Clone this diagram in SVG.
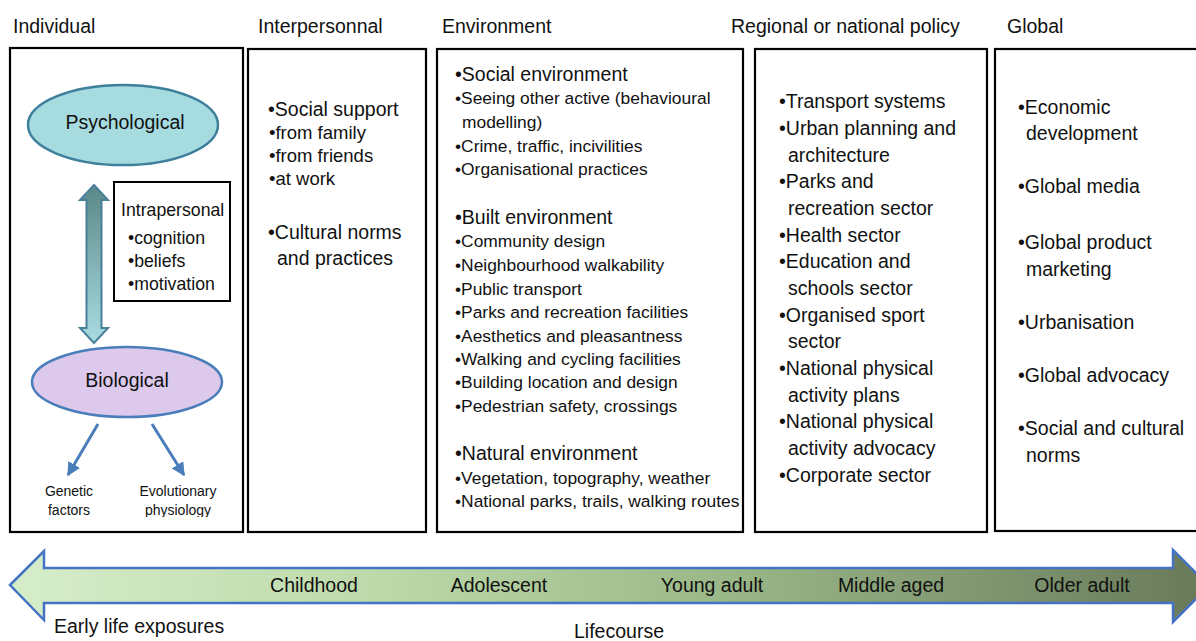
<svg xmlns="http://www.w3.org/2000/svg" width="1196" height="641" viewBox="0 0 1196 641">
<defs>
<style>
text{font-family:"Liberation Sans",Arial,sans-serif;fill:#111;}
.h{font-size:19.5px;}
.l{font-size:19.5px;}
.s{font-size:17.4px;}
.m{font-size:18.5px;}
.i{font-size:17.7px;}
.t{font-size:14px;}
.box{fill:#fff;stroke:#000;stroke-width:2.2;}
.mid{text-anchor:middle;}
</style>
<linearGradient id="vgrad" x1="0" y1="0" x2="0" y2="1">
<stop offset="0" stop-color="#5b8887"/>
<stop offset="1" stop-color="#a9dde2"/>
</linearGradient>
<linearGradient id="lgrad" x1="0" y1="0" x2="1" y2="0">
<stop offset="0" stop-color="#d6edca"/>
<stop offset="0.3" stop-color="#bedaab"/>
<stop offset="0.6" stop-color="#9ab788"/>
<stop offset="1" stop-color="#68795a"/>
</linearGradient>
<marker id="ah" viewBox="0 0 10 10" refX="9" refY="5" markerWidth="4.5" markerHeight="4.5" orient="auto">
<path d="M0,0 L10,5 L0,10 z" fill="#4a7ebb"/>
</marker>
<clipPath id="clipbot"><rect x="0" y="0" width="1196" height="517"/></clipPath>
</defs>

<g id="headers">
<text class="h" x="13" y="33">Individual</text>
<text class="h" x="258" y="33">Interpersonnal</text>
<text class="h" x="442" y="33">Environment</text>
<text class="h" x="731" y="33">Regional or national policy</text>
<text class="h" x="1007" y="33">Global</text>
</g>

<g id="individual">
<rect class="box" x="10" y="48" width="233" height="484"/>
</g>

<g id="psychological">
<ellipse cx="123" cy="125" rx="95" ry="40" fill="#a6dbe0" stroke="#3e7f9c" stroke-width="2.5"/>
<text class="l mid" x="125" y="129">Psychological</text>
</g>

<g id="biological">
<ellipse cx="127" cy="382" rx="95" ry="35" fill="#dcc9ec" stroke="#4a7ebb" stroke-width="2.5"/>
<text class="l mid" x="127" y="387">Biological</text>
</g>

<g id="intrapersonal">
<rect x="114" y="182" width="116" height="119" fill="#fff" stroke="#000" stroke-width="2"/>
<text class="i" x="121" y="216">Intrapersonal</text>
<text class="i" x="128" y="244">•cognition</text>
<text class="i" x="128" y="267">•beliefs</text>
<text class="i" x="128" y="290">•motivation</text>
</g>

<g id="genetic">
<text class="t mid" x="69" y="496">Genetic</text>
<text class="t mid" x="69" y="515">factors</text>
</g>

<g id="evolutionary">
<text class="t mid" x="178" y="496">Evolutionary</text>
<text class="t mid" x="178" y="515" clip-path="url(#clipbot)">physiology</text>
</g>

<g id="connectors">
<path d="M94,185 L108,200 L101.5,200 L101.5,328 L108,328 L94,343 L80,328 L86.5,328 L86.5,200 L80,200 Z" fill="url(#vgrad)" stroke="#4a7f9c" stroke-width="2"/>
<line x1="98" y1="424" x2="68" y2="475" stroke="#4a7ebb" stroke-width="3" marker-end="url(#ah)"/>
<line x1="152" y1="424" x2="184" y2="475" stroke="#4a7ebb" stroke-width="3" marker-end="url(#ah)"/>
</g>

<g id="interpersonal">
<rect class="box" x="248" y="49" width="178" height="483"/>
<text class="l" x="268" y="116">•Social support</text>
<text class="m" x="269" y="139">•from family</text>
<text class="m" x="269" y="162">•from friends</text>
<text class="m" x="269" y="185">•at work</text>
<text class="l" x="268" y="239">•Cultural norms</text>
<text class="l" x="277" y="265">and practices</text>
</g>

<g id="environment">
<rect class="box" x="437" y="49" width="306" height="483"/>
<text class="l" x="455" y="81">•Social environment</text>
<text class="s" x="455" y="104">•Seeing other active (behavioural</text>
<text class="s" x="462" y="128">modelling)</text>
<text class="s" x="455" y="152">•Crime, traffic, incivilities</text>
<text class="s" x="455" y="175">•Organisational practices</text>
<text class="l" x="455" y="224">•Built environment</text>
<text class="s" x="455" y="247">•Community design</text>
<text class="s" x="455" y="271">•Neighbourhood walkability</text>
<text class="s" x="455" y="295">•Public transport</text>
<text class="s" x="455" y="318">•Parks and recreation facilities</text>
<text class="s" x="455" y="342">•Aesthetics and pleasantness</text>
<text class="s" x="455" y="365">•Walking and cycling facilities</text>
<text class="s" x="455" y="388">•Building location and design</text>
<text class="s" x="455" y="412">•Pedestrian safety, crossings</text>
<text class="l" x="455" y="460">•Natural environment</text>
<text class="s" x="455" y="484">•Vegetation, topography, weather</text>
<text class="s" x="455" y="507">•National parks, trails, walking routes</text>
</g>

<g id="regional">
<rect class="box" x="755" y="49" width="232" height="483"/>
<text class="l" x="779" y="108">•Transport systems</text>
<text class="l" x="779" y="135">•Urban planning and</text>
<text class="l" x="788" y="162">architecture</text>
<text class="l" x="779" y="188">•Parks and</text>
<text class="l" x="788" y="215">recreation sector</text>
<text class="l" x="779" y="242">•Health sector</text>
<text class="l" x="779" y="268">•Education and</text>
<text class="l" x="788" y="295">schools sector</text>
<text class="l" x="779" y="322">•Organised sport</text>
<text class="l" x="788" y="348">sector</text>
<text class="l" x="779" y="375">•National physical</text>
<text class="l" x="788" y="402">activity plans</text>
<text class="l" x="779" y="428">•National physical</text>
<text class="l" x="788" y="455">activity advocacy</text>
<text class="l" x="779" y="482">•Corporate sector</text>
</g>

<g id="global">
<rect class="box" x="995" y="49" width="210" height="482"/>
<text class="l" x="1018" y="114">•Economic</text>
<text class="l" x="1026" y="140">development</text>
<text class="l" x="1018" y="193">•Global media</text>
<text class="l" x="1018" y="249">•Global product</text>
<text class="l" x="1026" y="276">marketing</text>
<text class="l" x="1018" y="329">•Urbanisation</text>
<text class="l" x="1018" y="382">•Global advocacy</text>
<text class="l" x="1018" y="435">•Social and cultural</text>
<text class="l" x="1026" y="462">norms</text>
</g>

<g id="lifecourse">
<path d="M10,585 L44,551 L44,568 L1173,568 L1173,550 L1209,586 L1173,622 L1173,603 L44,603 L44,620 Z" fill="url(#lgrad)" stroke="#4472c4" stroke-width="2.5" stroke-linejoin="miter"/>
<text class="l mid" x="314" y="592">Childhood</text>
<text class="l mid" x="499" y="592">Adolescent</text>
<text class="l mid" x="712" y="592">Young adult</text>
<text class="l mid" x="891" y="592">Middle aged</text>
<text class="l mid" x="1082" y="592">Older adult</text>
<text class="l" x="54" y="633">Early life exposures</text>
<text class="l mid" x="619" y="638">Lifecourse</text>
</g>
</svg>
